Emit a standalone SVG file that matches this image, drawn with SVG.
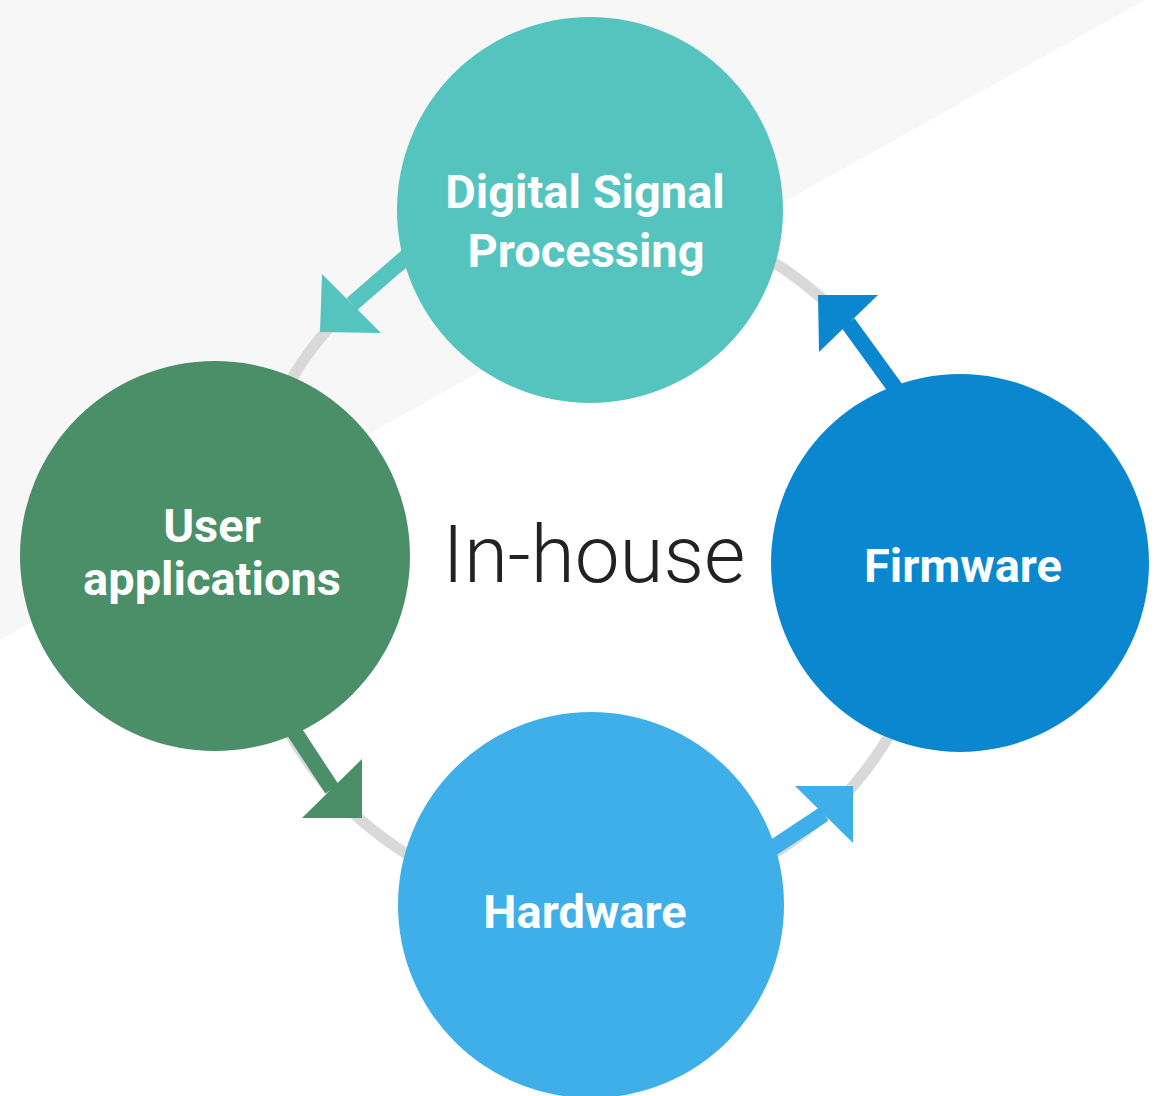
<svg xmlns="http://www.w3.org/2000/svg" width="1158" height="1096" viewBox="0 0 1158 1096">
  <style>
    .label { font-family: Roboto, "Liberation Sans", sans-serif; font-weight: 700; font-size: 47px; fill: #ffffff; text-anchor: middle; }
    .center { font-family: Roboto, "Liberation Sans", sans-serif; font-weight: 300; font-size: 80px; fill: #222222; text-anchor: middle; }
    .ring { fill: none; stroke: #d9d9d9; stroke-width: 11; }
    .shaft { fill: none; stroke-width: 16; }
  </style>

  <!-- background -->
  <rect x="0" y="0" width="1158" height="1096" fill="#ffffff"/>
  <polygon points="0,0 1145,0 0,640" fill="#f7f7f7"/>

  <!-- cycle ring and arrows -->
  <g id="connectors">
    <circle class="ring" cx="590" cy="558" r="348"/>
    <!-- DSP -> User applications -->
    <line class="shaft" stroke="#55c4bf" x1="412" y1="252" x2="352" y2="304"/>
    <polygon fill="#55c4bf" points="320,332 322,274 381,333"/>
    <!-- User applications -> Hardware -->
    <line class="shaft" stroke="#4a8f68" x1="290" y1="725" x2="332" y2="789"/>
    <polygon fill="#4a8f68" points="362,818 362,759 302,818"/>
    <!-- Hardware -> Firmware -->
    <line class="shaft" stroke="#3eafe8" x1="765" y1="853" x2="824" y2="814"/>
    <polygon fill="#3eafe8" points="853,786 795,786 853,843"/>
    <!-- Firmware -> DSP -->
    <line class="shaft" stroke="#0a87cf" x1="898" y1="392" x2="848" y2="323"/>
    <polygon fill="#0a87cf" points="818,295 878,295 819,352"/>
  </g>

  <g id="dsp">
    <circle cx="590" cy="210" r="193" fill="#55c4bf"/>
    <text class="label" x="585" y="208">Digital Signal</text>
    <text class="label" x="586" y="267">Processing</text>
  </g>

  <g id="user-apps">
    <circle cx="215" cy="556" r="195" fill="#4a8f68"/>
    <text class="label" x="212" y="542">User</text>
    <text class="label" x="212" y="595">applications</text>
  </g>

  <g id="firmware">
    <circle cx="960" cy="563" r="189" fill="#0a87cf"/>
    <text class="label" x="963" y="582">Firmware</text>
  </g>

  <g id="hardware">
    <circle cx="591" cy="905" r="193" fill="#3eafe8"/>
    <text class="label" x="585" y="928">Hardware</text>
  </g>

  <g id="title">
    <text class="center" x="594" y="582">In-house</text>
  </g>
</svg>
